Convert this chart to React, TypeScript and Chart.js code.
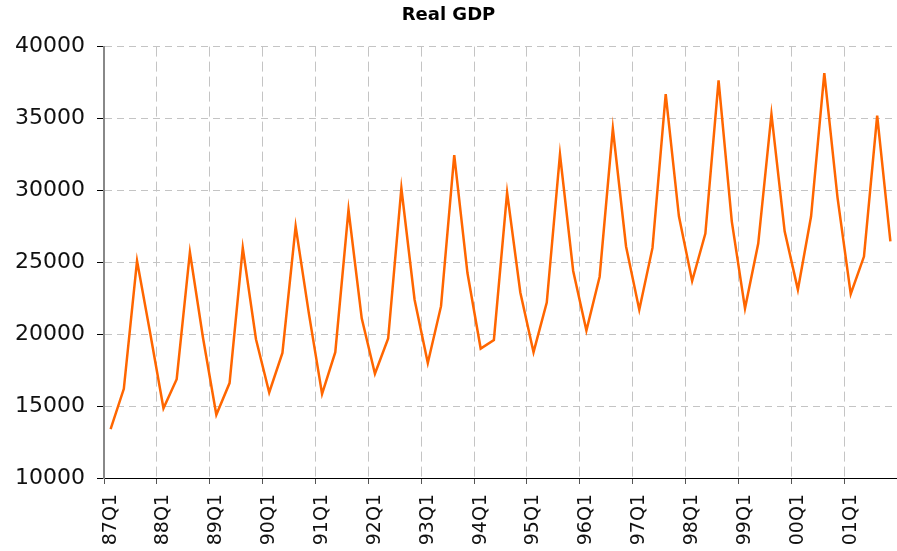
import React, { useEffect, useRef } from "react";
import { Chart, registerables } from "chart.js";

Chart.register(...registerables);

const chartTitle = "Real GDP";
const years = ["87", "88", "89", "90", "91", "92", "93", "94", "95", "96", "97", "98", "99", "00", "01"];
const quarters = ["Q1", "Q2", "Q3", "Q4"];
const categories = years.flatMap((y) => quarters.map((q) => y + q));

const realGdp = [
  13400, 16200, 25100, 20050,
  14850, 16870, 25700, 19700,
  14400, 16600, 26000, 19650,
  15950, 18700, 27500, 21450,
  15850, 18750, 28650, 21100,
  17250, 19700, 30150, 22400,
  18000, 21950, 32450, 24250,
  19000, 19600, 29850, 22900,
  18750, 22200, 32500, 24400,
  20250, 24000, 34300, 26100,
  21700, 26000, 36700, 28200,
  23700, 27000, 37650, 27850,
  21800, 26300, 35300, 27150,
  23100, 28200, 38150, 29500,
  22800, 25400, 35200, 26450,
];

const yMin = 10000;
const yMax = 40000;
const yStep = 5000;

const FONT = "'DejaVu Sans', 'Liberation Sans', sans-serif";

export default function App() {
  const ref = useRef<HTMLCanvasElement>(null);

  useEffect(() => {
    if (!ref.current) return;
    const isYear = (c: any) => typeof c.index === "number" && c.index % 4 === 0;
    const chart = new Chart(ref.current, {
      type: "line",
      data: {
        labels: categories,
        datasets: [
          {
            label: chartTitle,
            data: realGdp,
            borderColor: "#ff6600",
            backgroundColor: "#ff6600",
            borderWidth: 2.5,
            pointRadius: 0,
            tension: 0,
            fill: false,
          },
        ],
      },
      options: {
        responsive: false,
        animation: false,
        devicePixelRatio: 1,
        layout: { padding: 0 },
        plugins: {
          legend: { display: false },
          tooltip: { enabled: false },
          title: {
            display: true,
            text: chartTitle,
            color: "#000",
            font: { family: FONT, size: 18, weight: "bold", lineHeight: 1.2 },
            padding: { top: 5, bottom: 20 },
          },
        },
        scales: {
          x: {
            type: "category",
            offset: true,
            grid: {
              offset: true,
              color: (c: any) => (isYear(c) ? "#c4c4c4" : "transparent"),
              tickColor: (c: any) => (isYear(c) ? "#555" : "transparent"),
              tickLength: 6,
              lineWidth: 1,
            },
            border: { color: "#000", width: 1, dash: [10, 5] },
            ticks: {
              autoSkip: false,
              maxRotation: 90,
              minRotation: 90,
              padding: 10,
              color: "#111",
              font: { family: FONT, size: 19 },
              callback: (_v: any, i: number) => (i % 4 === 0 ? categories[i] : ""),
            },
            afterFit: (s: any) => {
              s.height = 73;
              s.paddingLeft = 0;
              s.paddingRight = 0;
            },
          },
          y: {
            min: yMin,
            max: yMax,
            ticks: {
              stepSize: yStep,
              padding: 12,
              color: "#111",
              font: { family: FONT, size: 22 },
              callback: (v: any) => String(v),
            },
            grid: { color: "#c4c4c4", tickColor: "#000", tickLength: 7, lineWidth: 1 },
            border: { color: "#888", width: 2, dash: [7, 5] },
            afterFit: (s: any) => {
              s.width = 104;
            },
          },
        },
      },
    });
    return () => chart.destroy();
  }, []);

  return (
    <div style={{ position: "absolute", left: 0, top: 0, width: 897, height: 551, background: "#fff" }}>
      <canvas ref={ref} width={897} height={551} style={{ display: "block" }} />
    </div>
  );
}
